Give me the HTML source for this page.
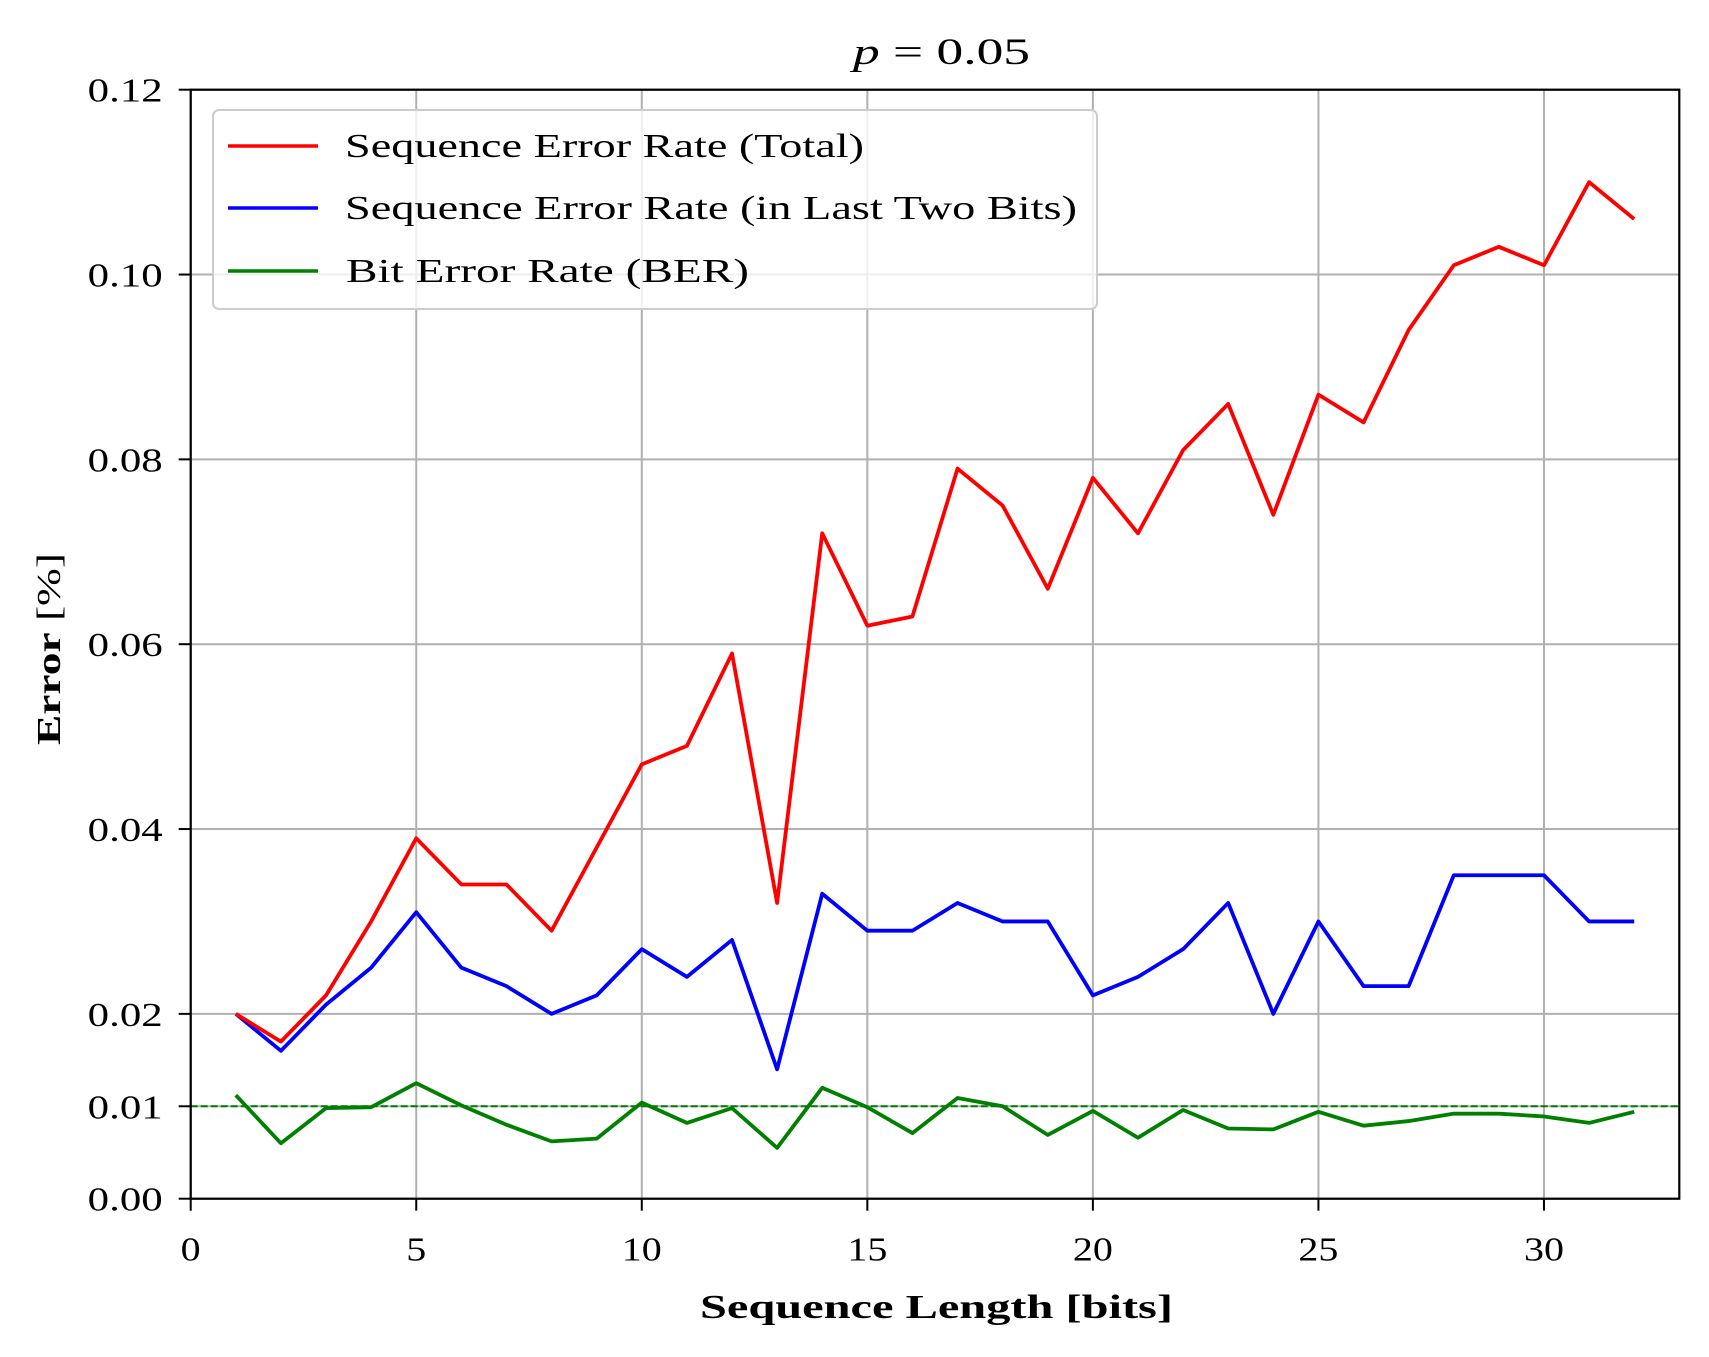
<!DOCTYPE html>
<html><head><meta charset="utf-8"><style>
body{margin:0;background:#fff}
svg text{font-family:"Liberation Serif",serif;fill:#000}
</style></head><body>
<svg id="chart" width="1709" height="1352" xmlns="http://www.w3.org/2000/svg">
<rect width="1709" height="1352" fill="#fff"/>
<g id="grid"></g>
<g id="series"></g>
<rect x="190.7" y="89.7" width="1488.6" height="1109" fill="none" stroke="#000" stroke-width="2.2"/>
<g id="ticks"></g>
<text x="853" y="64" font-size="37" textLength="177" lengthAdjust="spacingAndGlyphs"><tspan font-style="italic">p</tspan> = 0.05</text>
<text x="700" y="1318" font-size="34" font-weight="bold" textLength="473" lengthAdjust="spacingAndGlyphs">Sequence Length [bits]</text>
<text transform="translate(60,745) rotate(-90)" font-size="34" textLength="192" lengthAdjust="spacingAndGlyphs"><tspan font-weight="bold">Error</tspan> [%]</text>
<g>
<rect x="213" y="110" width="884" height="199" rx="6" fill="#fff" fill-opacity="0.8" stroke="#ccc" stroke-width="2"/>
<line x1="228" y1="146" x2="318" y2="146" stroke="#ff0000" stroke-width="3.5"/>
<text x="345" y="157" font-size="34" textLength="519" lengthAdjust="spacingAndGlyphs">Sequence Error Rate (Total)</text>
<line x1="228" y1="208" x2="318" y2="208" stroke="#0000ff" stroke-width="3.5"/>
<text x="345" y="219" font-size="34" textLength="732" lengthAdjust="spacingAndGlyphs">Sequence Error Rate (in Last Two Bits)</text>
<line x1="228" y1="271" x2="318" y2="271" stroke="#008000" stroke-width="3.5"/>
<text x="346" y="282" font-size="34" textLength="403" lengthAdjust="spacingAndGlyphs">Bit Error Rate (BER)</text>
</g>
</svg>
<script>
const lengths = [1,2,3,4,5,6,7,8,9,10,11,12,13,14,15,16,17,18,19,20,21,22,23,24,25,26,27,28,29,30,31,32];
const totalErr = [0.020,0.017,0.022,0.030,0.039,0.034,0.034,0.029,0.038,0.047,0.049,0.059,0.032,0.072,0.062,0.063,0.079,0.075,0.066,0.078,0.072,0.081,0.086,0.074,0.087,0.084,0.094,0.101,0.103,0.101,0.110,0.106];
const lastTwoErr = [0.020,0.016,0.021,0.025,0.031,0.025,0.023,0.020,0.022,0.027,0.024,0.028,0.014,0.033,0.029,0.029,0.032,0.030,0.030,0.022,0.024,0.027,0.032,0.020,0.030,0.023,0.023,0.035,0.035,0.035,0.030,0.030];
const berErr = [0.0112,0.0060,0.0098,0.0099,0.0125,0.0101,0.0080,0.0062,0.0065,0.0104,0.0082,0.0098,0.0055,0.0120,0.0099,0.0071,0.0109,0.0100,0.0069,0.0095,0.0066,0.0096,0.0076,0.0075,0.0094,0.0079,0.0084,0.0092,0.0092,0.0089,0.0082,0.0094];
const xTicks = [0,5,10,15,20,25,30];
const yTicks = [0,0.01,0.02,0.04,0.06,0.08,0.10,0.12];
const yTickLabels = ["0.00","0.01","0.02","0.04","0.06","0.08","0.10","0.12"];
const berRef = 0.01;

const L=190.7,R=1679.3,T=89.7,B=1198.7;
const X=v=>L+(v-0)/(33-0)*(R-L);
const Y=v=>B-(v/0.12)*(B-T);
const NS="http://www.w3.org/2000/svg";
function mk(tag,attrs,parent){const e=document.createElementNS(NS,tag);for(const k in attrs)e.setAttribute(k,attrs[k]);parent.appendChild(e);return e;}
const grid=document.getElementById('grid'),ticks=document.getElementById('ticks'),series=document.getElementById('series');
xTicks.forEach(t=>{
  const g=mk('line',{x1:X(t),x2:X(t),y1:T,y2:B,stroke:'#b0b0b0','stroke-width':2},grid);
  
  
  const tk=mk('line',{x1:X(t),x2:X(t),y1:B,y2:B+12,stroke:'#000','stroke-width':2},ticks);
  
  
  const s=String(t);
  const w=s.length*20;
  const tx=mk('text',{x:X(t)-w/2,y:B+62,'font-size':34,textLength:w,lengthAdjust:'spacingAndGlyphs'},ticks);
  tx.textContent=s;
  
  
});
yTicks.forEach((t,i)=>{
  const g=mk('line',{x1:L,x2:R,y1:Y(t),y2:Y(t),stroke:'#b0b0b0','stroke-width':2},grid);
  
  
  const tk=mk('line',{x1:L-12,x2:L,y1:Y(t),y2:Y(t),stroke:'#000','stroke-width':2},ticks);
  
  
  const tx=mk('text',{x:L-103,y:Y(t)+12,'font-size':34,textLength:75,lengthAdjust:'spacingAndGlyphs'},ticks);
  tx.textContent=yTickLabels[i];
  
  
});
const ref=mk('line',{x1:L,x2:R,y1:Y(berRef),y2:Y(berRef),stroke:'#008000','stroke-width':2,'stroke-dasharray':'7,3'},series);


function line(vals,color,name){
  const p=mk('polyline',{points:vals.map((v,i)=>X(lengths[i])+','+Y(v)).join(' '),fill:'none',stroke:color,'stroke-width':3.8,'stroke-linejoin':'round'},series);
  
  
}
line(berErr,'#008000','ber-line');
line(lastTwoErr,'#0000ff','last-two-bits-line');
line(totalErr,'#ff0000','total-error-line');
</script>
</body></html>
